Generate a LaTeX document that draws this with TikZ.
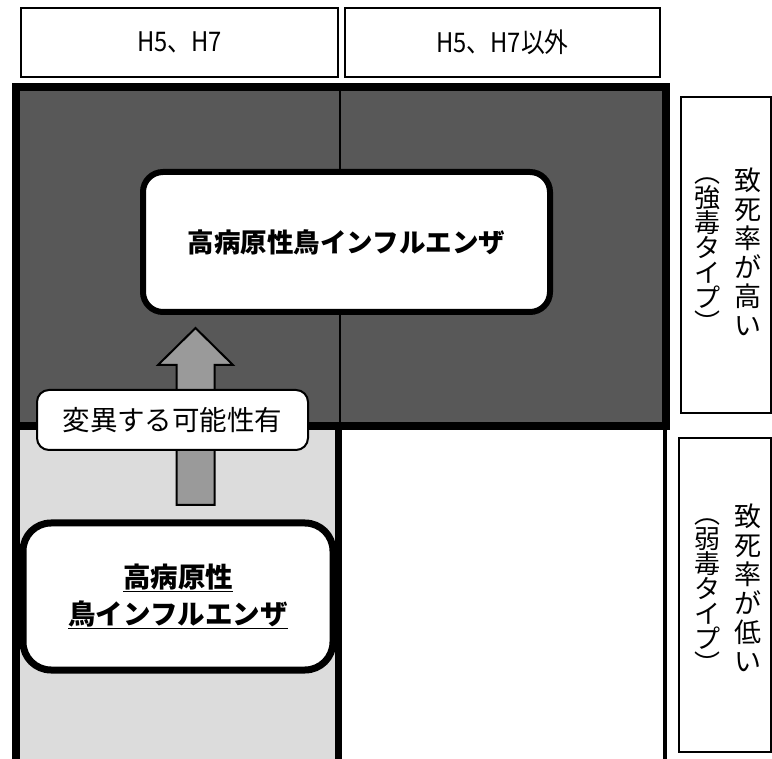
\documentclass[tikz,border=0pt]{standalone}
\usepackage{fontspec}
\setmainfont{Noto Sans CJK JP}
\usetikzlibrary{calc}
\definecolor{darkreg}{HTML}{585858}
\definecolor{lightreg}{HTML}{DCDCDC}
\definecolor{arrowgray}{HTML}{9A9A9A}
\tikzset{
  hdr/.style={draw=black, line width=2, fill=white, inner sep=0,
    font=\fontsize{27}{29}\selectfont},
  sidebox/.style={draw=black, line width=2.5, fill=white, inner sep=0},
  vcol/.style={inner sep=0, align=center},
  bigbox/.style={draw=black, line width=6, fill=white, rounded corners=20, inner sep=0,
    font=\bfseries\fontsize{26.5}{30}\selectfont},
  lowbox/.style={draw=black, line width=7, fill=white, rounded corners=28, inner sep=0,
    align=center, font=\bfseries\fontsize{27.5}{37}\selectfont},
  labelbox/.style={draw=black, line width=2, fill=white, rounded corners=12, inner sep=0,
    font=\fontsize{27.5}{30}\selectfont},
  arrowst/.style={draw=black, line width=2, fill=arrowgray, line join=miter},
}
\begin{document}
\begin{tikzpicture}[x=1pt,y=-1pt]
\useasboundingbox (0,0) rectangle (772,759);
\fill[white] (0,0) rectangle (772,759);
% header boxes
\node[hdr, minimum width=317, minimum height=69] (h1) at (179.5,42.5) {\scalebox{0.88}[1]{H5、H7}};
\node[hdr, minimum width=315, minimum height=69] (h2) at (502.5,42.5) {\scalebox{0.88}[1]{H5、H7以外}};
% regions
\fill[darkreg] (16,87) rectangle (666,426);
\fill[lightreg] (16,426) rectangle (338.5,759);
\draw[line width=2] (340,87) -- (340,426);
\draw[line width=8] (16,759) -- (16,87) -- (666,87) -- (666,426) -- (16,426);
\draw[line width=7] (338.5,426) -- (338.5,759);
\draw[line width=4] (664.5,426) -- (664.5,759);
% side boxes
\node[sidebox, minimum width=90, minimum height=316] (sa) at (726,255) {};
\node[sidebox, minimum width=92, minimum height=314] (sb) at (725,595) {};
\node[vcol, font=\fontsize{27}{29}\selectfont] (sa1) at (748,252) {致\\死\\率\\が\\高\\い};
\node[vcol, font=\fontsize{26}{25}\selectfont] (sa2) at (707,255) {︵\\強\\毒\\タ\\イ\\プ\\︶};
\node[vcol, font=\fontsize{27}{29}\selectfont] (sb1) at (748,588) {致\\死\\率\\が\\低\\い};
\node[vcol, font=\fontsize{26}{25}\selectfont] (sb2) at (707,596) {︵\\弱\\毒\\タ\\イ\\プ\\︶};
% big box
\node[bigbox, minimum width=407, minimum height=140] (big) at (346.5,242) {高病原性鳥インフルエンザ};
% lower box
\node[lowbox, minimum width=310, minimum height=147] (low) at (178,596.5)
  {\underline{高病原性}\\\underline{鳥インフルエンザ}};
% arrow
\coordinate (at) at (195.5,328);
\coordinate (ab) at (195.5,505);
\draw[arrowst] ($(ab)+(-19,0)$) -- ($(at)+(-19,37)$) -- ($(at)+(-37.5,37)$) -- (at)
  -- ($(at)+(37.5,37)$) -- ($(at)+(19,37)$) -- ($(ab)+(19,0)$) -- cycle;
% label
\node[labelbox, minimum width=271, minimum height=60] (lab) at (172.5,420) {変異する可能性有};
\end{tikzpicture}
\end{document}
